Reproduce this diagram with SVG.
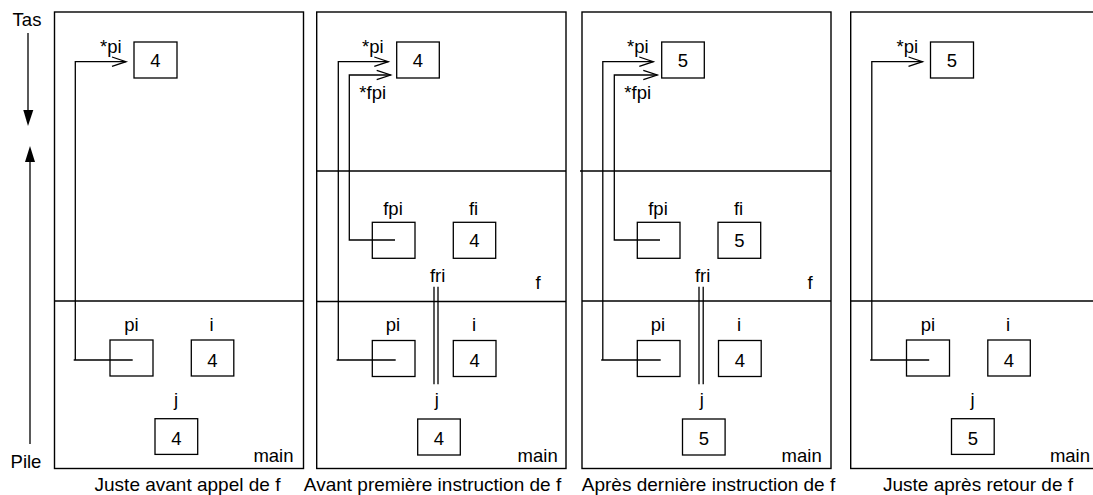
<svg xmlns="http://www.w3.org/2000/svg" width="1093" height="495" viewBox="0 0 1093 495">
<style>
.frame{fill:none;stroke:#000;stroke-width:1.4}
.box{fill:#fff;stroke:#000;stroke-width:1.3}
.ln{fill:none;stroke:#000;stroke-width:1.3}
.head{fill:none;stroke:#000;stroke-width:1.3}
text{font-family:"Liberation Sans",Arial,Helvetica,sans-serif;font-size:18.5px;fill:#000}
.c{text-anchor:middle}
.e{text-anchor:end}
.cap{font-size:19px;text-anchor:middle}
</style>
<rect width="1093" height="495" fill="#fff"/>

<g id="axis">
<text class="c" x="27" y="26">Tas</text>
<line class="ln" x1="28" y1="33" x2="28" y2="112"/>
<polygon points="23.3,110 33.3,110 28,126" fill="#000"/>
<polygon points="25,162 35,162 30,146" fill="#000"/>
<line class="ln" x1="30" y1="160" x2="30" y2="444"/>
<text class="c" x="26" y="468">Pile</text>
</g>

<!-- Panel 1 -->
<g id="panel1">
<rect class="frame" x="54.5" y="12" width="249" height="456.5"/>
<line class="ln" x1="54.5" y1="301" x2="303.5" y2="301"/>
<text class="e" x="293.5" y="461.5">main</text>
<text class="cap" x="187.5" y="491">Juste avant appel de f</text>
</g>
<g id="p1_heap">
<rect class="box" x="134" y="42" width="43" height="36"/>
<text class="c" x="155.5" y="66.5">4</text>
<text x="100" y="53">*pi</text>
</g>
<g id="p1_pi">
<rect class="box" x="110" y="340" width="43" height="36"/>
<text class="c" x="131.5" y="331">pi</text>
</g>
<g id="p1_i">
<rect class="box" x="191.3" y="340" width="42.5" height="36"/>
<text class="c" x="212.5" y="366.5">4</text>
<text class="c" x="211.5" y="331">i</text>
</g>
<g id="p1_j">
<rect class="box" x="155" y="418.7" width="42.7" height="35.7"/>
<text class="c" x="176.3" y="444.5">4</text>
<text class="c" x="176" y="406">j</text>
</g>

<!-- Panel 2 -->
<g id="panel2">
<rect class="frame" x="316.7" y="12" width="249.3" height="456.5"/>
<line class="ln" x1="316.7" y1="171" x2="566" y2="171"/>
<line class="ln" x1="316.7" y1="301.5" x2="566" y2="301.5"/>
<text x="535.5" y="289">f</text>
<text class="e" x="557.7" y="461.5">main</text>
<text class="cap" x="432.5" y="491">Avant première instruction de f</text>
</g>
<g id="p2_heap">
<rect class="box" x="396.7" y="42" width="42.6" height="36"/>
<text class="c" x="418" y="66.5">4</text>
<text x="362" y="53">*pi</text>
<text x="359.3" y="99">*fpi</text>
</g>
<g id="p2_fpi">
<rect class="box" x="372.3" y="222.3" width="42.7" height="36"/>
<text class="c" x="393" y="215">fpi</text>
</g>
<g id="p2_fi">
<rect class="box" x="453.3" y="222.3" width="42.4" height="36"/>
<text class="c" x="474.5" y="247">4</text>
<text class="c" x="473.5" y="215">fi</text>
</g>
<g id="p2_fri">
<text class="c" x="437.7" y="281.5">fri</text>
</g>
<g id="p2_pi">
<rect class="box" x="372.3" y="340.5" width="42.7" height="36"/>
<text class="c" x="393" y="331">pi</text>
</g>
<g id="p2_i">
<rect class="box" x="453.3" y="340.5" width="42.7" height="36"/>
<text class="c" x="474.6" y="366.5">4</text>
<text class="c" x="474" y="331">i</text>
</g>
<g id="p2_j">
<rect class="box" x="417.7" y="419" width="42.6" height="36"/>
<text class="c" x="439" y="444.5">4</text>
<text class="c" x="436.7" y="406">j</text>
</g>

<!-- Panel 3 -->
<g id="panel3">
<rect class="frame" x="582" y="12" width="249" height="456.5"/>
<line class="ln" x1="580" y1="171" x2="831" y2="171"/>
<line class="ln" x1="582" y1="301" x2="831" y2="301"/>
<text x="807.5" y="289">f</text>
<text class="e" x="821.7" y="461.5">main</text>
<text class="cap" x="708.5" y="491">Après dernière instruction de f</text>
</g>
<g id="p3_heap">
<rect class="box" x="661.7" y="42" width="42.6" height="36"/>
<text class="c" x="683" y="66.5">5</text>
<text x="627" y="53">*pi</text>
<text x="624.3" y="99">*fpi</text>
</g>
<g id="p3_fpi">
<rect class="box" x="637.3" y="222.3" width="42.7" height="36"/>
<text class="c" x="658" y="215">fpi</text>
</g>
<g id="p3_fi">
<rect class="box" x="718" y="222.3" width="42.7" height="36"/>
<text class="c" x="739.3" y="247">5</text>
<text class="c" x="738.5" y="215">fi</text>
</g>
<g id="p3_fri">
<text class="c" x="702.7" y="281.5">fri</text>
</g>
<g id="p3_pi">
<rect class="box" x="637.3" y="340.5" width="42.7" height="36"/>
<text class="c" x="658" y="331">pi</text>
</g>
<g id="p3_i">
<rect class="box" x="718.5" y="340.5" width="42.7" height="36"/>
<text class="c" x="739.8" y="366.5">4</text>
<text class="c" x="739" y="331">i</text>
</g>
<g id="p3_j">
<rect class="box" x="682.5" y="419" width="42.6" height="36"/>
<text class="c" x="703.8" y="444.5">5</text>
<text class="c" x="701.7" y="406">j</text>
</g>

<!-- Panel 4 -->
<g id="panel4">
<rect class="frame" x="850.7" y="12" width="260" height="456.5"/>
<line class="ln" x1="850.7" y1="301" x2="1100" y2="301"/>
<text class="e" x="1090" y="461.5">main</text>
<text class="cap" x="978" y="491">Juste après retour de f</text>
</g>
<g id="p4_heap">
<rect class="box" x="930.5" y="42" width="43" height="36"/>
<text class="c" x="952" y="66.5">5</text>
<text x="896.5" y="53">*pi</text>
</g>
<g id="p4_pi">
<rect class="box" x="906.5" y="340" width="43" height="36"/>
<text class="c" x="928" y="331">pi</text>
</g>
<g id="p4_i">
<rect class="box" x="987.8" y="340" width="42.5" height="36"/>
<text class="c" x="1009" y="366.5">4</text>
<text class="c" x="1008" y="331">i</text>
</g>
<g id="p4_j">
<rect class="box" x="951.5" y="418.7" width="42.7" height="35.7"/>
<text class="c" x="972.8" y="444.5">5</text>
<text class="c" x="972.5" y="406">j</text>
</g>

<g id="connectors">
<!-- panel 1 -->
<path class="ln" d="M132.7,360 H73.7 M75.3,360.6 V61.7 H126"/>
<path class="head" d="M112,57 L126,61.7 L112,66.4"/>
<!-- panel 2 -->
<path class="ln" d="M395.7,360 H336.6 M338.3,360.6 V61.7 H388.3"/>
<path class="head" d="M374.3,57 L388.3,61.7 L374.3,66.4"/>
<path class="ln" d="M395,240 H349.3 V75 H390.7"/>
<path class="head" d="M376.7,70.3 L390.7,75 L376.7,79.7"/>
<path class="ln" d="M434,286.7 V384.3 M438,286.7 V384.3"/>
<!-- panel 3 -->
<path class="ln" d="M660.7,360 H601.2 M602.8,360.6 V61.7 H653.3"/>
<path class="head" d="M639.3,57 L653.3,61.7 L639.3,66.4"/>
<path class="ln" d="M660,240 H614.3 V75 H657.3"/>
<path class="head" d="M643.3,70.3 L657.3,75 L643.3,79.7"/>
<path class="ln" d="M699,286.7 V384.3 M703.2,286.7 V384.3"/>
<!-- panel 4 -->
<path class="ln" d="M929.2,360 H870.2 M871.8,360.6 V61.7 H922.5"/>
<path class="head" d="M908.5,57 L922.5,61.7 L908.5,66.4"/>
</g>
</svg>
